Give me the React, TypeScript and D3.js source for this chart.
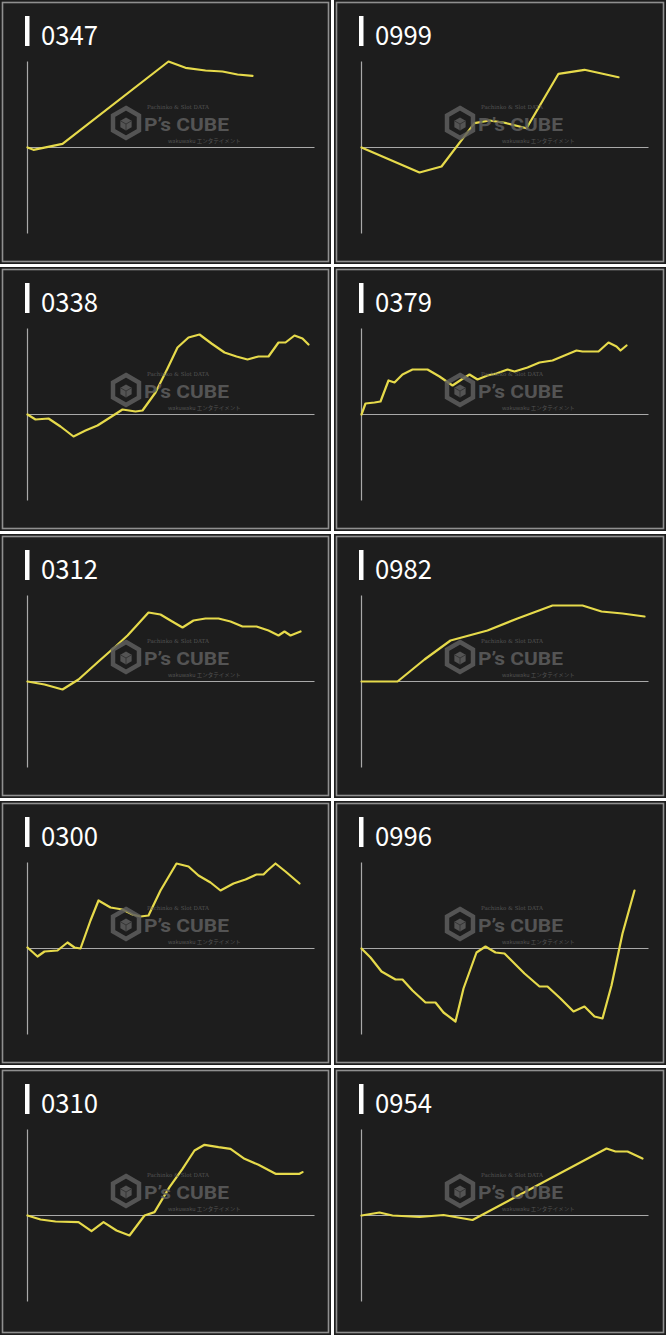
import React from "react";
import * as d3 from "d3";

// ---- data (x: games, y: coin difference) ----
const titles = ["0347", "0999", "0338", "0379", "0312", "0982", "0300", "0996", "0310", "0954"];

const games0347 = [0, 180, 1050, 4230, 4740, 5340, 5850, 6300, 6750];
const diff0347 = [0, -230, 370, 8600, 7970, 7700, 7600, 7300, 7170];

const games0999 = [0, 1740, 2400, 3390, 3840, 4350, 4950, 5910, 6690, 7710];
const diff0999 = [0, -2500, -1900, 2430, 2700, 2430, 1930, 7370, 7770, 7030];

const games0338 = [0, 240, 630, 990, 1380, 1740, 2100, 2430, 2850, 3240, 3450, 3840, 4200, 4500, 4830, 5160, 5520, 5910, 6270, 6600, 6930, 7230, 7530, 7740, 8010, 8250, 8430];
const diff0338 = [0, -500, -400, -1200, -2200, -1600, -1100, -400, 500, 300, 400, 2200, 4600, 6700, 7700, 8000, 7100, 6200, 5800, 5500, 5800, 5800, 7200, 7200, 7900, 7600, 7000];

const games0379 = [0, 120, 390, 570, 810, 990, 1230, 1530, 1980, 2340, 2730, 3000, 3240, 3480, 3780, 4050, 4380, 4590, 4980, 5340, 5730, 6090, 6450, 6630, 6840, 7110, 7410, 7650, 7770, 7950];
const diff0379 = [0, 1100, 1200, 1300, 3400, 3200, 4000, 4500, 4500, 3800, 2900, 3500, 4000, 3500, 3900, 4100, 4500, 4300, 4700, 5200, 5400, 5900, 6400, 6300, 6300, 6300, 7200, 6800, 6400, 6900];

const games0312 = [0, 510, 1050, 1530, 2130, 2640, 3000, 3330, 3630, 3990, 4290, 4650, 4980, 5340, 5730, 6090, 6450, 6870, 7230, 7530, 7710, 7890, 8190];
const diff0312 = [0, -300, -800, 200, 2000, 3500, 4600, 5800, 6900, 6700, 6100, 5400, 6100, 6300, 6300, 6000, 5500, 5500, 5100, 4600, 5000, 4600, 5000];

const games0982 = [0, 1080, 1890, 2670, 3780, 4680, 5730, 6630, 7200, 7830, 8490];
const diff0982 = [0, 0, 2200, 4100, 5100, 6300, 7600, 7600, 7000, 6800, 6500];

const games0300 = [0, 300, 510, 900, 1200, 1410, 1590, 1890, 2130, 2490, 2850, 3150, 3390, 3630, 3990, 4470, 4830, 5130, 5490, 5790, 6180, 6540, 6870, 7080, 7200, 7440, 7740, 8160];
const diff0300 = [100, -800, -300, -200, 600, 100, 0, 2800, 4800, 4100, 3900, 3400, 3200, 3300, 5800, 8500, 8200, 7300, 6600, 5800, 6500, 6900, 7400, 7400, 7800, 8500, 7700, 6500];

const games0996 = [0, 270, 600, 1020, 1230, 1530, 1920, 2220, 2460, 2820, 3060, 3450, 3720, 4020, 4290, 4590, 4890, 5340, 5580, 5970, 6360, 6690, 6990, 7230, 7500, 7830, 8190];
const diff0996 = [0, -900, -2300, -3100, -3100, -4200, -5400, -5400, -6400, -7300, -4000, -400, 200, -400, -500, -1500, -2500, -3800, -3800, -5000, -6300, -5800, -6800, -7000, -3700, 1500, 5800];

const games0310 = [0, 390, 840, 1530, 1920, 2280, 2670, 3060, 3510, 3810, 4260, 4650, 5010, 5310, 5730, 6090, 6510, 6930, 7440, 8160, 8250];
const diff0310 = [0, -400, -600, -660, -1560, -660, -1500, -2000, 0, 340, 2840, 4670, 6500, 7070, 6840, 6670, 5670, 5070, 4170, 4170, 4340];

const games0954 = [0, 540, 930, 1740, 2460, 3330, 7350, 7620, 7980, 8430];
const diff0954 = [0, 300, 0, -150, 50, -450, 6700, 6400, 6400, 5700];

const gamesList = [games0347, games0999, games0338, games0379, games0312, games0982, games0300, games0996, games0310, games0954];
const diffList = [diff0347, diff0999, diff0338, diff0379, diff0312, diff0982, diff0300, diff0996, diff0310, diff0954];

const xDomain = [0, 8610];
const yDomain = [-8600, 8600];

// ---- layout ----
const W = 666;
const H = 1335;
const colX = [0, 334];
const colW = [331, 332];
const rowY = [0, 267, 534, 801, 1068];
const rowH = [264, 264, 264, 264, 267];

const BG = "#1d1d1d";
const BORDER = "#8f8f8f";
const AXIS = "#a9a9a9";
const LINE = "#e6da4b";
const WM = "#5e5e5e";

function Watermark() {
  const cx = 126, cy = 123, r = 15;
  const hex = d3.range(6).map((i) => {
    const a = (Math.PI / 3) * i - Math.PI / 2;
    return [cx + r * Math.cos(a), cy + r * Math.sin(a)];
  });
  const r2 = 6.5;
  const hex2 = d3.range(6).map((i) => {
    const a = (Math.PI / 3) * i - Math.PI / 2;
    return [cx + r2 * Math.cos(a), cy + 1 + r2 * Math.sin(a)];
  });
  const poly = (pts: number[][]) => "M" + pts.map((p) => p.join(",")).join("L") + "Z";
  return (
    <g opacity={0.85} pointerEvents="none">
      <path d={poly(hex)} fill="none" stroke={WM} strokeWidth={4.5} strokeLinejoin="miter" />
      <path d={poly(hex2)} fill={WM} />
      <path d={`M${cx},${cy + 1}L${cx},${cy + 7.5}M${cx},${cy + 1}L${cx - 5.6},${cy - 2.2}M${cx},${cy + 1}L${cx + 5.6},${cy - 2.2}`} stroke="#3a3a3a" strokeWidth={1} fill="none" />
      <text x={147} y={109} fontSize={5.5} fill={WM} fontFamily="DejaVu Serif, serif">Pachinko &amp; Slot DATA</text>
      <text x={144} y={131} fontSize={19} fontWeight="bold" fill={WM} fontFamily="Roboto, 'DejaVu Sans', sans-serif" textLength={85} lengthAdjust="spacingAndGlyphs">P’s CUBE</text>
      <text x={168} y={143} fontSize={5.5} fill={WM} fontFamily="'Noto Sans CJK JP', sans-serif">wakuwaku エンタテイメント</text>
    </g>
  );
}

function Panel({ idx }: { idx: number }) {
  const col = idx % 2;
  const row = Math.floor(idx / 2);
  const px = colX[col];
  const py = rowY[row];
  const w = colW[col];
  const h = rowH[row];
  const axisX = 27.5;
  const x = d3.scaleLinear().domain(xDomain).range([axisX, axisX + 287]);
  const y = d3.scaleLinear().domain(yDomain).range([233.5, 61.5]);
  const games = gamesList[idx];
  const diffs = diffList[idx];
  const pts = games.map((g, i) => [g, diffs[i]] as [number, number]);
  const line = d3
    .line<[number, number]>()
    .x((d) => x(d[0]))
    .y((d) => y(d[1]));
  return (
    <g transform={`translate(${px},${py})`}>
      <rect x={0} y={0} width={w} height={h} fill={BG} />
      <rect x={2.5} y={2.5} width={w - 5} height={h - 5} fill="none" stroke={BORDER} strokeWidth={1.6} />
      <rect x={25} y={16} width={4.5} height={30} fill="#ffffff" />
      <text
        x={41}
        y={45}
        fontSize={27}
        fill="#ffffff"
        fontFamily="'Noto Sans CJK JP', 'Noto Sans', sans-serif"
        textLength={57}
        lengthAdjust="spacingAndGlyphs"
      >
        {titles[idx]}
      </text>
      <line x1={axisX} x2={axisX} y1={y(yDomain[1])} y2={y(yDomain[0])} stroke={AXIS} strokeWidth={1.2} />
      <line x1={axisX} x2={x(xDomain[1])} y1={y(0)} y2={y(0)} stroke={AXIS} strokeWidth={1.2} />
      <path d={line(pts) || ""} fill="none" stroke={LINE} strokeWidth={2.2} strokeLinejoin="round" strokeLinecap="round" />
      <Watermark />
    </g>
  );
}

export default function App() {
  return (
    <svg
      width={W}
      height={H}
      style={{ position: "absolute", left: 0, top: 0, background: "#ffffff" }}
    >
      <rect x={0} y={0} width={W} height={H} fill="#ffffff" />
      {titles.map((t, i) => (
        <Panel key={t} idx={i} />
      ))}
    </svg>
  );
}
